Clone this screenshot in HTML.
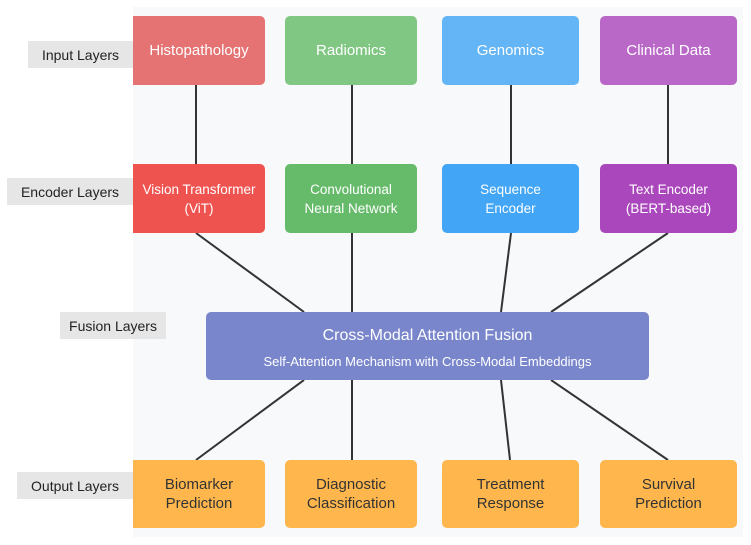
<!DOCTYPE html>
<html><head><style>
body{margin:0;width:751px;height:545px;background:#fff;position:relative;overflow:hidden;font-family:"Liberation Sans",sans-serif}
.p{position:absolute;left:133px;top:7px;width:610px;height:530px;background:#f8f9fa}
.b{position:absolute;display:flex;align-items:center;justify-content:center;text-align:center;color:#fff;border-radius:5px;font-size:14px;line-height:19px}
.l{position:absolute;background:#e6e6e6;color:#222;font-size:14px;display:flex;align-items:center;justify-content:center;height:27px}
svg{position:absolute;left:0;top:0}
.o{background:#ffb74d;color:#333;font-size:15px;line-height:19px}
</style></head><body>
<div class="p"></div>
<svg width="751" height="545"><g stroke="#333" stroke-width="2">
<line x1="196" y1="85" x2="196" y2="164"/><line x1="352" y1="85" x2="352" y2="164"/><line x1="511" y1="85" x2="511" y2="164"/><line x1="668" y1="85" x2="668" y2="164"/>
<line x1="196" y1="233" x2="304" y2="312"/><line x1="352" y1="233" x2="352" y2="312"/><line x1="511" y1="233" x2="501" y2="312"/><line x1="668" y1="233" x2="551" y2="312"/>
<line x1="304" y1="380" x2="196" y2="460"/><line x1="352" y1="380" x2="352" y2="460"/><line x1="501" y1="380" x2="510" y2="460"/><line x1="551" y1="380" x2="668" y2="460"/>
</g></svg>
<div class="l" style="left:28px;top:41px;width:105px">Input Layers</div>
<div class="l" style="left:7px;top:178px;width:126px">Encoder Layers</div>
<div class="l" style="left:60px;top:312px;width:106px">Fusion Layers</div>
<div class="l" style="left:17px;top:472px;width:116px">Output Layers</div>
<div class="b" style="left:133px;top:16px;width:132px;height:69px;background:#e57373;border-radius:0 5px 5px 0;font-size:15px">Histopathology</div>
<div class="b" style="left:285px;top:16px;width:132px;height:69px;background:#81c784;font-size:15px">Radiomics</div>
<div class="b" style="left:442px;top:16px;width:137px;height:69px;background:#64b5f6;font-size:15px">Genomics</div>
<div class="b" style="left:600px;top:16px;width:137px;height:69px;background:#ba68c8;font-size:15px">Clinical Data</div>
<div class="b" style="left:133px;top:164px;width:132px;height:69px;background:#ef5350;border-radius:0 5px 5px 0;font-size:13.5px">Vision Transformer<br>(ViT)</div>
<div class="b" style="left:285px;top:164px;width:132px;height:69px;background:#66bb6a;font-size:13.5px">Convolutional<br>Neural Network</div>
<div class="b" style="left:442px;top:164px;width:137px;height:69px;background:#42a5f5;font-size:13.5px">Sequence<br>Encoder</div>
<div class="b" style="left:600px;top:164px;width:137px;height:69px;background:#ab47bc;font-size:13.5px">Text Encoder<br>(BERT-based)</div>
<div class="b" style="left:206px;top:312px;width:443px;height:68px;background:#7986cb;flex-direction:column"><div style="font-size:16px;margin-bottom:7px;margin-top:4px">Cross-Modal Attention Fusion</div><div style="font-size:13px">Self-Attention Mechanism with Cross-Modal Embeddings</div></div>
<div class="b o" style="left:133px;top:460px;width:132px;height:68px;border-radius:0 5px 5px 0">Biomarker<br>Prediction</div>
<div class="b o" style="left:285px;top:460px;width:132px;height:68px">Diagnostic<br>Classification</div>
<div class="b o" style="left:442px;top:460px;width:137px;height:68px">Treatment<br>Response</div>
<div class="b o" style="left:600px;top:460px;width:137px;height:68px">Survival<br>Prediction</div>
</body></html>
